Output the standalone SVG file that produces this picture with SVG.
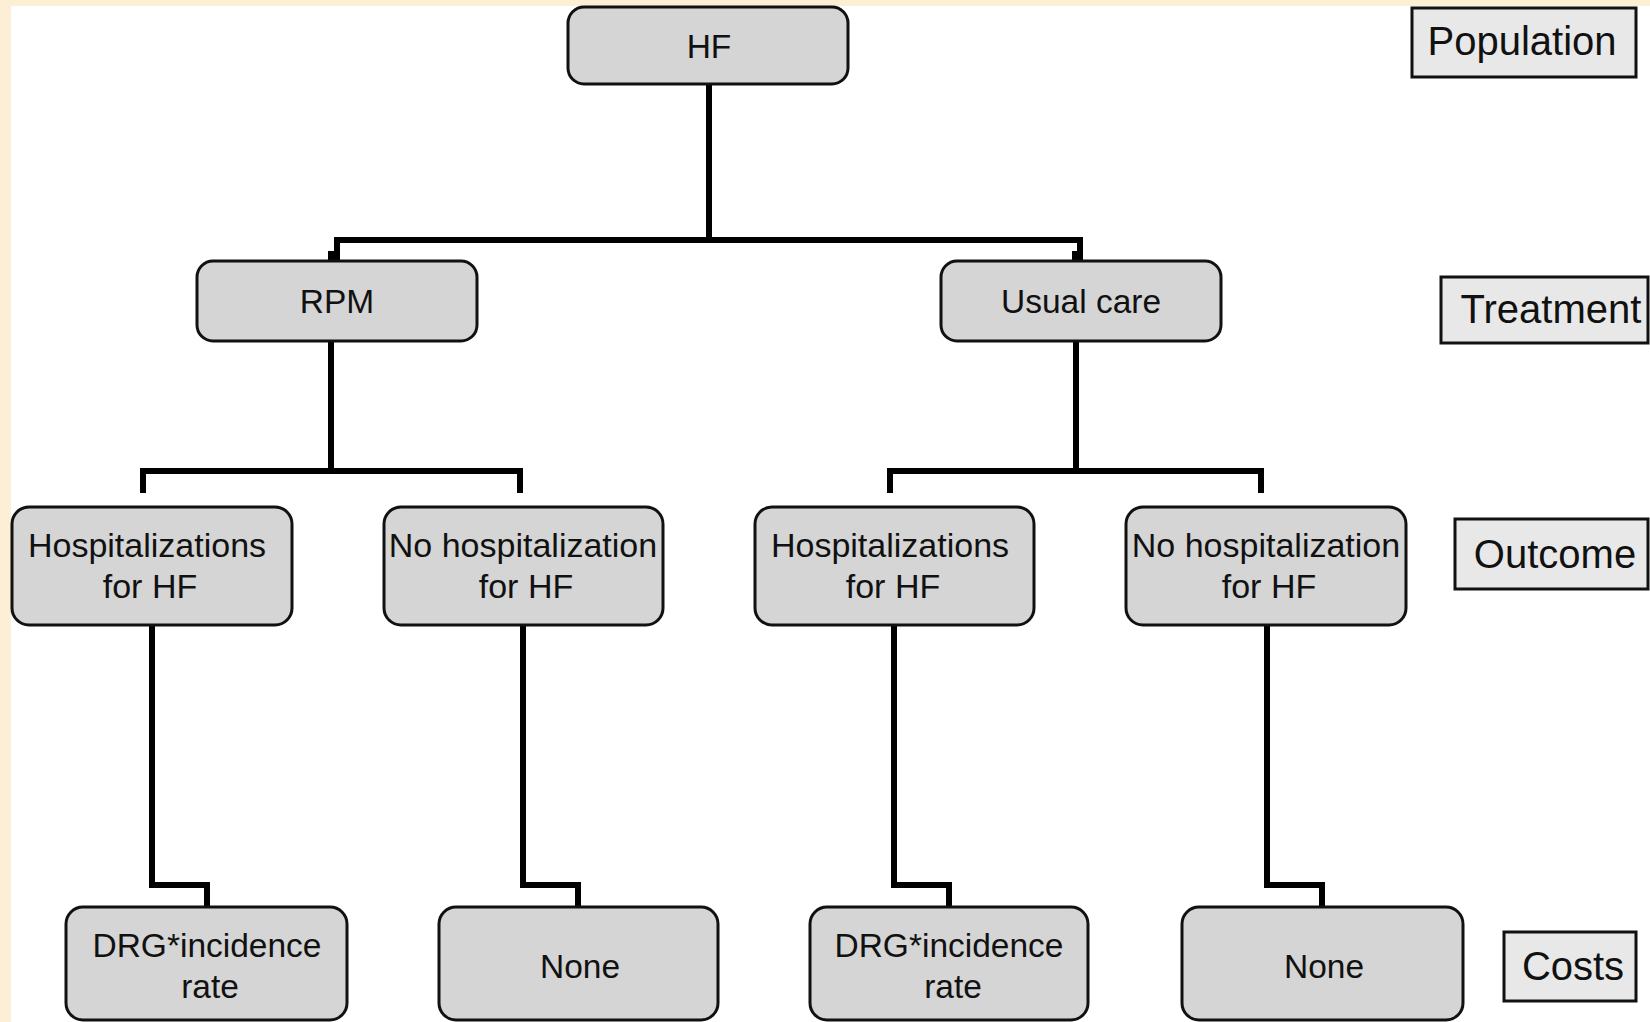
<svg xmlns="http://www.w3.org/2000/svg" width="1650" height="1022" viewBox="0 0 1650 1022">
<style>
.node rect{fill:#d5d5d5;stroke:#111;stroke-width:3}
.node text{font-family:"Liberation Sans",Arial,sans-serif;font-size:33.5px;fill:#111;text-anchor:middle}
.node text.o{font-size:34px}
.lab rect{fill:#e8e8e8;stroke:#111;stroke-width:3}
.lab text{font-family:"Liberation Sans",Arial,sans-serif;font-size:40px;fill:#111;text-anchor:middle}
.conn path{fill:none;stroke:#000;stroke-width:6;stroke-linejoin:miter;stroke-linecap:butt}
</style>
<rect x="0" y="0" width="1650" height="1022" fill="#fcefd6"/>
<rect x="11" y="6" width="1639" height="1016" fill="#ffffff"/>

<g id="connectors" class="conn">
  <path d="M709 84 V240"/>
  <path d="M337 261 V240 H1080 V261"/>
  <rect x="328" y="251" width="7" height="10" fill="#000"/>
  <rect x="1072" y="251" width="6" height="10" fill="#000"/>
  <path d="M331 341 V471"/>
  <path d="M143 493 V471 H520 V493"/>
  <path d="M1076 341 V471"/>
  <path d="M890 493 V471 H1261 V493"/>
  <path d="M152 625 V885 H207 V907"/>
  <path d="M523 625 V885 H578 V907"/>
  <path d="M894 625 V885 H949 V907"/>
  <path d="M1267 625 V885 H1322 V907"/>
</g>

<g id="node-hf" class="node">
  <rect x="568" y="7" width="280" height="77" rx="16"/>
  <text x="709" y="58">HF</text>
</g>
<g id="node-rpm" class="node">
  <rect x="197" y="261" width="280" height="80" rx="16"/>
  <text x="337" y="313">RPM</text>
</g>
<g id="node-usual" class="node">
  <rect x="941" y="261" width="280" height="80" rx="16"/>
  <text x="1081" y="313">Usual care</text>
</g>

<g id="node-hosp1" class="node">
  <rect x="12" y="507" width="280" height="118" rx="17"/>
  <text class="o" x="147" y="557">Hospitalizations</text>
  <text class="o" x="150" y="598">for HF</text>
</g>
<g id="node-nohosp1" class="node">
  <rect x="384" y="507" width="279" height="118" rx="17"/>
  <text class="o" x="523" y="557">No hospitalization</text>
  <text class="o" x="526" y="598">for HF</text>
</g>
<g id="node-hosp2" class="node">
  <rect x="755" y="507" width="279" height="118" rx="17"/>
  <text class="o" x="890" y="557">Hospitalizations</text>
  <text class="o" x="893" y="598">for HF</text>
</g>
<g id="node-nohosp2" class="node">
  <rect x="1126" y="507" width="280" height="118" rx="17"/>
  <text class="o" x="1266" y="557">No hospitalization</text>
  <text class="o" x="1269" y="598">for HF</text>
</g>

<g id="node-cost1" class="node">
  <rect x="66" y="907" width="281" height="113" rx="17"/>
  <text x="207" y="957">DRG*incidence</text>
  <text x="210" y="998">rate</text>
</g>
<g id="node-cost2" class="node">
  <rect x="439" y="907" width="279" height="113" rx="17"/>
  <text x="580" y="978">None</text>
</g>
<g id="node-cost3" class="node">
  <rect x="810" y="907" width="278" height="113" rx="17"/>
  <text x="949" y="957">DRG*incidence</text>
  <text x="953" y="998">rate</text>
</g>
<g id="node-cost4" class="node">
  <rect x="1182" y="907" width="281" height="113" rx="17"/>
  <text x="1324" y="978">None</text>
</g>

<g id="label-population" class="lab">
  <rect x="1412" y="8" width="224" height="69"/>
  <text x="1522" y="55">Population</text>
</g>
<g id="label-treatment" class="lab">
  <rect x="1441" y="277" width="207" height="66"/>
  <text x="1551" y="323">Treatment</text>
</g>
<g id="label-outcome" class="lab">
  <rect x="1455" y="519" width="193" height="70"/>
  <text x="1555" y="568">Outcome</text>
</g>
<g id="label-costs" class="lab">
  <rect x="1504" y="932" width="132" height="69"/>
  <text x="1573" y="980">Costs</text>
</g>
</svg>
